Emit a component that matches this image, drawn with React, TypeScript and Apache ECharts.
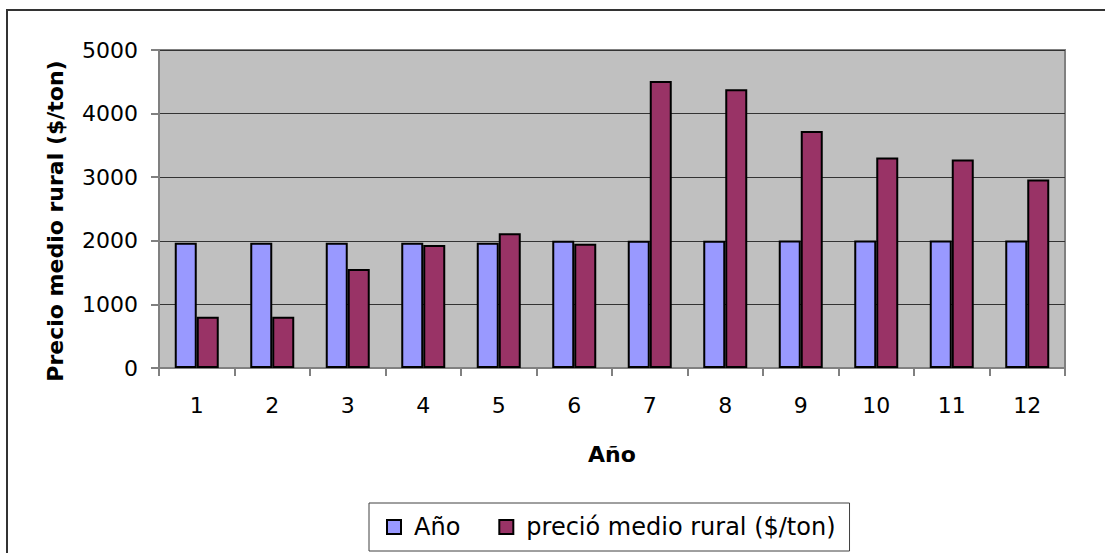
import React, { useEffect, useRef } from "react";
import * as echarts from "echarts";

const categories = ["1", "2", "3", "4", "5", "6", "7", "8", "9", "10", "11", "12"];
const anoValues = [1970, 1970, 1970, 1970, 1970, 2000, 2001, 2002, 2003, 2004, 2005, 2006];
const precioValues = [807, 807, 1557, 1932, 2120, 1953, 4511, 4384, 3726, 3311, 3279, 2963];
const yTicks = { min: 0, max: 5000, interval: 1000 };
const seriesNames = ["Año", "preció medio rural ($/ton)"];
const yAxisTitle = "Precio medio rural ($/ton)";
const xAxisTitle = "Año";

export default function App() {
  const ref = useRef<HTMLDivElement>(null);
  useEffect(() => {
    if (!ref.current) return;
    const chart = echarts.init(ref.current, null, { renderer: "svg" });
    const font = "'DejaVu Sans', 'Liberation Sans', Arial, sans-serif";
    chart.setOption({
      animation: false,
      textStyle: { fontFamily: font },
      grid: {
        left: 159,
        top: 50,
        right: 40,
        bottom: 185,
        show: true,
        backgroundColor: "#C0C0C0",
        borderColor: "#808080",
        borderWidth: 2,
      },
      legend: {
        left: 369,
        top: 503,
        padding: [11, 14, 11, 17],
        itemWidth: 14,
        itemHeight: 14,
        itemGap: 38,
        icon: "rect",
        borderColor: "#404040",
        borderWidth: 1,
        backgroundColor: "#ffffff",
        textStyle: {
          fontSize: 24,
          lineHeight: 26,
          color: "#000",
          fontFamily: font,
          padding: [0, 0, 0, 8],
        },
        data: seriesNames,
      },
      xAxis: {
        type: "category",
        data: categories,
        name: xAxisTitle,
        nameLocation: "middle",
        nameGap: 75,
        nameTextStyle: { fontSize: 22, fontWeight: "bold", color: "#000", fontFamily: font },
        axisLine: { lineStyle: { color: "#808080", width: 2 } },
        axisTick: { show: true, length: 8, lineStyle: { color: "#808080", width: 2 } },
        axisLabel: { fontSize: 22, color: "#000", margin: 26, fontFamily: font },
      },
      yAxis: {
        type: "value",
        min: yTicks.min,
        max: yTicks.max,
        interval: yTicks.interval,
        axisLine: { show: true, lineStyle: { color: "#808080", width: 2 } },
        axisTick: { show: true, length: 8, lineStyle: { color: "#808080", width: 2 } },
        axisLabel: {
          fontSize: 22,
          color: "#000",
          margin: 21,
          fontFamily: font,
          formatter: (v: number) => String(v),
        },
        splitLine: { show: true, lineStyle: { color: "#333333", width: 1 } },
      },
      series: [
        {
          name: seriesNames[0],
          type: "bar",
          data: anoValues,
          barWidth: 22,
          barGap: "0%",
          itemStyle: { color: "#9999FF", borderColor: "#000", borderWidth: 2 },
        },
        {
          name: seriesNames[1],
          type: "bar",
          data: precioValues,
          barWidth: 22,
          barGap: "0%",
          itemStyle: { color: "#993366", borderColor: "#000", borderWidth: 2 },
        },
      ],
      graphic: [
        {
          type: "rect",
          shape: { x: 7, y: 10, width: 1300, height: 800 },
          style: { fill: "none", stroke: "#333333", lineWidth: 2 },
          silent: true,
        },
        {
          type: "text",
          x: 55,
          y: 221,
          rotation: Math.PI / 2,
          style: {
            text: yAxisTitle,
            fontSize: 22,
            fontWeight: "bold",
            fill: "#000",
            fontFamily: font,
            align: "center",
            verticalAlign: "middle",
          },
        },
      ],
    });
    return () => chart.dispose();
  }, []);
  return (
    <div
      ref={ref}
      style={{ position: "absolute", left: 0, top: 0, width: 1105, height: 553, background: "#fff" }}
    />
  );
}
